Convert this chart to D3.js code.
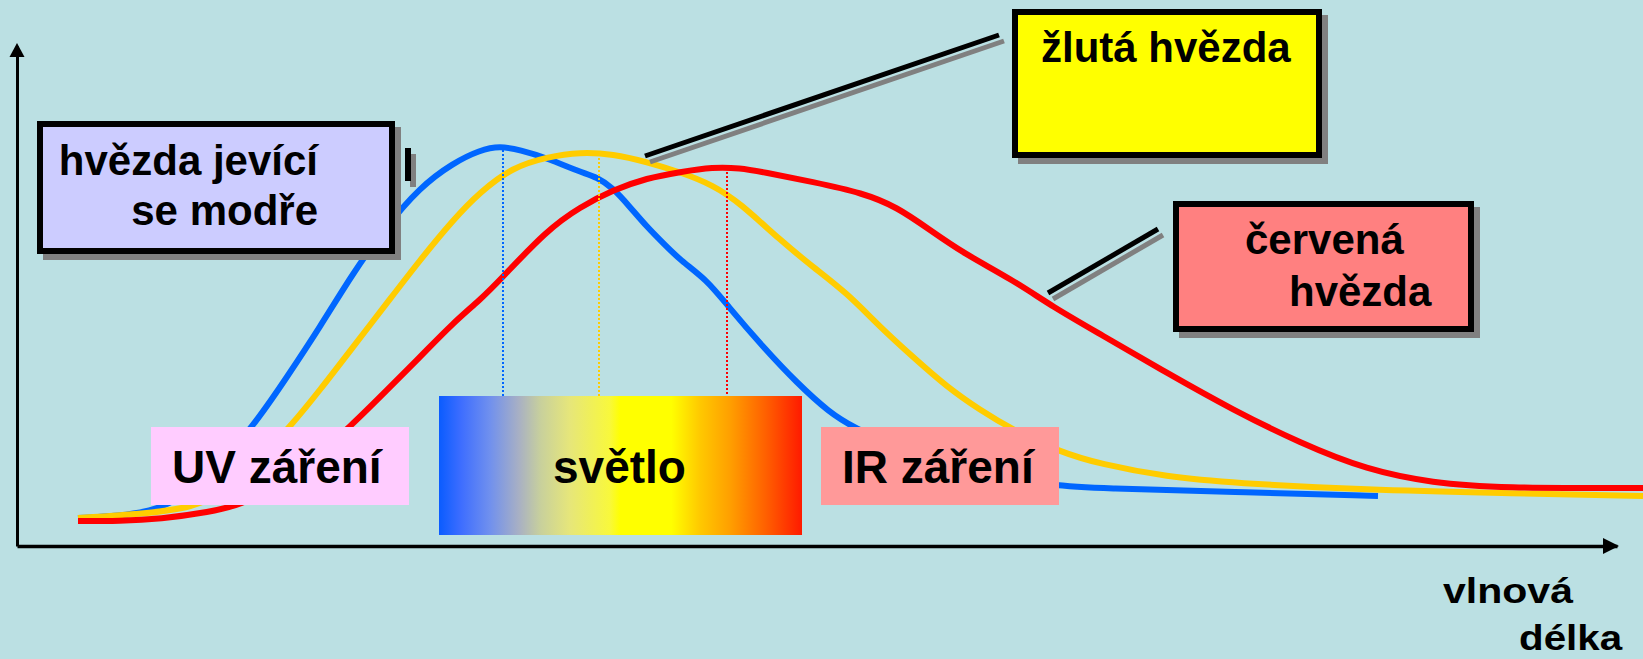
<!DOCTYPE html>
<html>
<head>
<meta charset="utf-8">
<script src="https://cdn.jsdelivr.net/npm/d3@7"></script>
<style>
  html, body { margin: 0; padding: 0; background: #BBE0E3; }
  svg { display: block; }
  text { font-family: "Liberation Sans", Arial, Helvetica, sans-serif; font-weight: bold; fill: #000; }
</style>
</head>
<body>
<svg id="chart" width="1643" height="659"></svg>
<script>
// intensity (0-100) over wavelength (arbitrary units 0-160)
const blueStar = [[6.1, 5.6], [10.3, 6.0], [13.3, 7.0], [15.8, 8.8], [19.3, 14.2], [23.6, 23.8], [27.0, 33.8],
    [30.3, 43.8], [33.6, 54.6], [36.8, 63.6], [40.3, 71.8], [43.6, 76.6], [46.3, 79.2], [48.3, 80.0], [50.3, 79.2],
    [53.0, 77.6], [56.3, 74.8], [58.0, 73.8], [59.6, 71.6], [61.3, 67.8], [63.0, 63.8], [64.6, 60.6], [66.3, 57.2],
    [69.0, 53.2], [71.0, 48.2], [74.6, 39.8], [78.0, 32.6], [81.3, 26.6], [83.6, 23.8], [88.3, 19.2], [94.3, 15.2],
    [104.3, 11.8], [108.3, 11.6], [121.6, 10.8], [136.1, 10.0]]
const yellowStar = [[6.1, 5.6], [12.3, 6.4], [17.6, 7.6], [21.3, 11.2], [24.3, 17.6], [27.3, 23.8], [30.3, 31.2],
    [33.6, 39.8], [37.0, 48.6], [40.3, 57.2], [43.6, 65.2], [46.3, 70.8], [49.6, 75.8], [53.0, 77.8], [56.3, 78.8],
    [59.6, 78.4], [63.0, 76.8], [66.3, 74.8], [69.6, 72.2], [72.3, 68.6], [76.3, 61.2], [79.6, 55.8], [83.0, 50.6],
    [86.3, 43.8], [89.6, 37.8], [93.0, 31.8], [96.3, 27.2], [99.6, 23.2], [104.3, 18.8], [108.3, 16.4], [115.0, 13.8],
    [121.6, 12.6], [135.0, 11.2], [148.3, 10.6], [162.6, 10.0]]
const redStar = [[6.1, 5.0], [10.3, 5.0], [14.3, 5.4], [19.3, 6.8], [22.3, 8.2], [26.3, 12.2], [29.8, 17.8],
    [33.3, 23.8], [37.0, 31.2], [40.3, 37.8], [43.6, 44.6], [46.3, 49.2], [48.3, 53.2], [53.0, 63.2], [56.3, 67.8],
    [59.6, 71.2], [63.0, 73.6], [66.3, 74.8], [69.6, 75.8], [72.3, 75.6], [74.6, 74.8], [79.6, 72.8], [84.6, 70.6],
    [88.0, 67.8], [91.3, 63.2], [94.6, 58.6], [99.6, 53.2], [103.6, 47.8], [108.3, 42.4], [115.0, 34.6],
    [121.6, 27.2], [128.3, 20.6], [135.0, 15.2], [141.6, 12.6], [148.3, 11.6], [162.6, 11.6]]

// maximum of each curve: [wavelength, intensity]
const peaks = [[48.6, 80.0], [58.2, 78.4], [71.0, 75.6]]
const seriesColors = ['#0066FF', '#FFCC00', '#FF0000']

// visible band [from, to] and its top edge
const lightBand = [42.2, 78.5]
const lightTop = 30
const spectrum = [[0, '#0A5CFF'], [0.06, '#3D6DFF'], [0.14, '#7090EE'], [0.22, '#A8B0C4'], [0.28, '#C8D09C'],
    [0.36, '#E6E67A'], [0.47, '#F8F83C'], [0.5, '#FFFF00'], [0.64, '#FFFF00'], [0.72, '#FFC800'],
    [0.8, '#FFA000'], [0.9, '#FF6000'], [1, '#FF1A00']]

const width = 1643, height = 659
const svg = d3.select('#chart')

const x = d3.scaleLinear().domain([0, 160]).range([17, 1617])
const y = d3.scaleLinear().domain([0, 100]).range([546, 46])

svg.append('rect').attr('width', width).attr('height', height).attr('fill', '#BBE0E3')

// gradient for "světlo"
const grad = svg.append('defs').append('linearGradient')
    .attr('id', 'spectrum')
    .attr('x1', '0%').attr('x2', '100%').attr('y1', '0%').attr('y2', '0%')
grad.selectAll('stop')
    .data(spectrum)
    .enter().append('stop')
    .attr('offset', d => d[0])
    .attr('stop-color', d => d[1])

// axes without ticks
const gx = svg.append('g')
    .attr('transform', `translate(0,${y(0)})`)
    .call(d3.axisBottom(x).tickValues([]).tickSizeOuter(0))
gx.select('.domain').attr('stroke', '#000').attr('stroke-width', 3.5)
const gy = svg.append('g')
    .attr('transform', `translate(${x(0)},0)`)
    .call(d3.axisLeft(y).tickValues([]).tickSizeOuter(0))
gy.select('.domain').attr('stroke', '#000').attr('stroke-width', 3)

const xEnd = x.range()[1], yTop = y.range()[1]
svg.append('path')
    .attr('d', `M${xEnd + 2},${y(0)} L${xEnd - 14},${y(0) - 8} L${xEnd - 14},${y(0) + 8} Z`)
    .attr('fill', '#000')
svg.append('path')
    .attr('d', `M${x(0)},${yTop - 3} L${x(0) - 7.5},${yTop + 11} L${x(0) + 7.5},${yTop + 11} Z`)
    .attr('fill', '#000')

// curves
const line = d3.line()
    .x(d => x(d[0]))
    .y(d => y(d[1]))
    .curve(d3.curveBasis)

svg.selectAll('.star')
    .data([blueStar, yellowStar, redStar])
    .enter().append('path')
    .attr('class', 'star')
    .attr('d', line)
    .attr('fill', 'none')
    .attr('stroke', (d, i) => seriesColors[i])
    .attr('stroke-width', 6)
    .attr('stroke-linejoin', 'round')

// dotted lines from the maxima
svg.selectAll('.peak')
    .data(peaks)
    .enter().append('line')
    .attr('class', 'peak')
    .attr('x1', d => x(d[0])).attr('x2', d => x(d[0]))
    .attr('y1', d => y(d[1]) + 4).attr('y2', y(lightTop))
    .attr('stroke', (d, i) => seriesColors[i])
    .attr('stroke-width', 2)
    .attr('stroke-dasharray', '2,2')

// spectrum band
svg.append('rect')
    .attr('x', x(lightBand[0]))
    .attr('y', y(lightTop))
    .attr('width', x(lightBand[1]) - x(lightBand[0]))
    .attr('height', 139)
    .attr('fill', 'url(#spectrum)')

// plain label boxes
function plainBox(bx, by, bw, bh, color) {
    svg.append('rect').attr('x', bx).attr('y', by).attr('width', bw).attr('height', bh).attr('fill', color)
}
plainBox(151, 427, 258, 78, '#FFCCFF')
plainBox(821, 427, 238, 78, '#FF9999')

// framed boxes with shadow
function shadowBox(bx, by, bw, bh, color) {
    svg.append('rect').attr('x', bx + 6).attr('y', by + 6).attr('width', bw).attr('height', bh)
        .attr('fill', '#808080').attr('stroke', '#808080').attr('stroke-width', 6)
    svg.append('rect').attr('x', bx).attr('y', by).attr('width', bw).attr('height', bh)
        .attr('fill', color).attr('stroke', '#000').attr('stroke-width', 6)
}
shadowBox(40, 124, 352, 127, '#CCCCFF')
shadowBox(1015, 12, 304, 143, '#FFFF00')
shadowBox(1176, 204, 295, 125, '#FF8080')

// callout lines with shadow
function callout(x1, y1, x2, y2, w) {
    svg.append('line').attr('x1', x1 + 5).attr('y1', y1 + 6).attr('x2', x2 + 5).attr('y2', y2 + 6)
        .attr('stroke', '#808080').attr('stroke-width', w)
    svg.append('line').attr('x1', x1).attr('y1', y1).attr('x2', x2).attr('y2', y2)
        .attr('stroke', '#000').attr('stroke-width', w)
}
callout(408, 148, 408, 181, 6)
callout(645, 156, 999, 35, 5)
callout(1048, 293, 1158, 229, 5)

// texts
function label(tx, ty, str, size, anchor) {
    svg.append('text').attr('x', tx).attr('y', ty)
        .attr('text-anchor', anchor || 'start')
        .style('font-size', size + 'px')
        .text(str)
}
label(318, 175, 'hvězda jevící', 42, 'end')
label(318, 225, 'se modře', 42, 'end')
label(1041, 62, 'žlutá hvězda', 42)
label(1245, 254, 'červená', 42)
label(1289, 306, 'hvězda', 42)
label(172, 483, 'UV záření', 46)
label(553, 483, 'světlo', 46)
label(842, 483, 'IR záření', 46)

svg.append('text').attr('transform', 'translate(1443,603) scale(1.14,1)')
    .style('font-size', '36px').text('vlnová')
svg.append('text').attr('transform', 'translate(1519,650) scale(1.12,1)')
    .style('font-size', '36px').text('délka')
</script>
</body>
</html>
